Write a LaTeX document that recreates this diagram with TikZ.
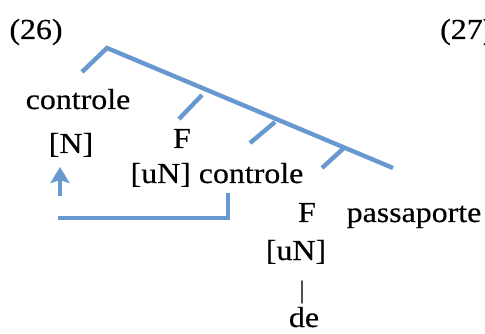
\documentclass[tikz,border=0pt]{standalone}
\usepackage{fontspec}
\setmainfont{Liberation Serif}[FakeStretch=1.1,FakeBold=0.4]
\usetikzlibrary{arrows.meta}
\definecolor{treeblue}{RGB}{104,152,208}
\begin{document}
\begin{tikzpicture}[x=1pt,y=-1pt,
        word/.style={anchor=base,inner sep=0pt,font=\fontsize{29}{33}\selectfont},
        branch/.style={treeblue,line width=4.4pt}]
        \clip (0,0) rectangle (485,334);
        %% example numbers
        \node[word] (ex26) at (36,39) {(26)};
        \node[word,anchor=base west] (ex27) at (440,39) {(27)};
        %% words of the tree
        \node[word] (noun) at (78,109) {controle};
        \node[word] (nfeat) at (71,153) {[N]};
        \node[word] (fone) at (182,148) {F};
        \node[word] (copy) at (217,183) {[uN] controle};
        \node[word] (ftwo) at (307,222) {F};
        \node[word] (pass) at (414,222) {passaporte};
        \node[word] (ufeat) at (296,260) {[uN]};
        \node[word,anchor=center,font=\fontsize{25}{29}\selectfont] (bar) at (302,292) {|};
        \node[word] (de) at (304,327) {de};
        %% branches
        \coordinate (root) at (107,48);
        \coordinate (leftend) at (82,72);
        \coordinate (rightend) at (393,168);
        \draw[branch] (leftend) -- (root) -- (rightend);
        \foreach \i/\tx/\ty/\bx/\by in {1/202/95/179/119,2/275/122/250/143,3/345/147/322/168} {
            \coordinate (tick\i) at (\tx,\ty);
            \coordinate (foot\i) at (\bx,\by);
            \draw[branch] (tick\i) -- (foot\i);
        }
        %% movement of controle
        \coordinate (movestart) at (228,193);
        \coordinate (movecorner) at (228,218);
        \coordinate (moveend) at (58,218);
        \draw[branch] (movestart) -- (movecorner) -- (moveend);
        \coordinate (arrowfoot) at (60,196);
        \coordinate (arrowtip) at (60,167);
        \draw[branch,-{Stealth[length=16pt,width=19pt,inset=3pt]}] (arrowfoot) -- (arrowtip);
    \end{tikzpicture}
\end{document}
